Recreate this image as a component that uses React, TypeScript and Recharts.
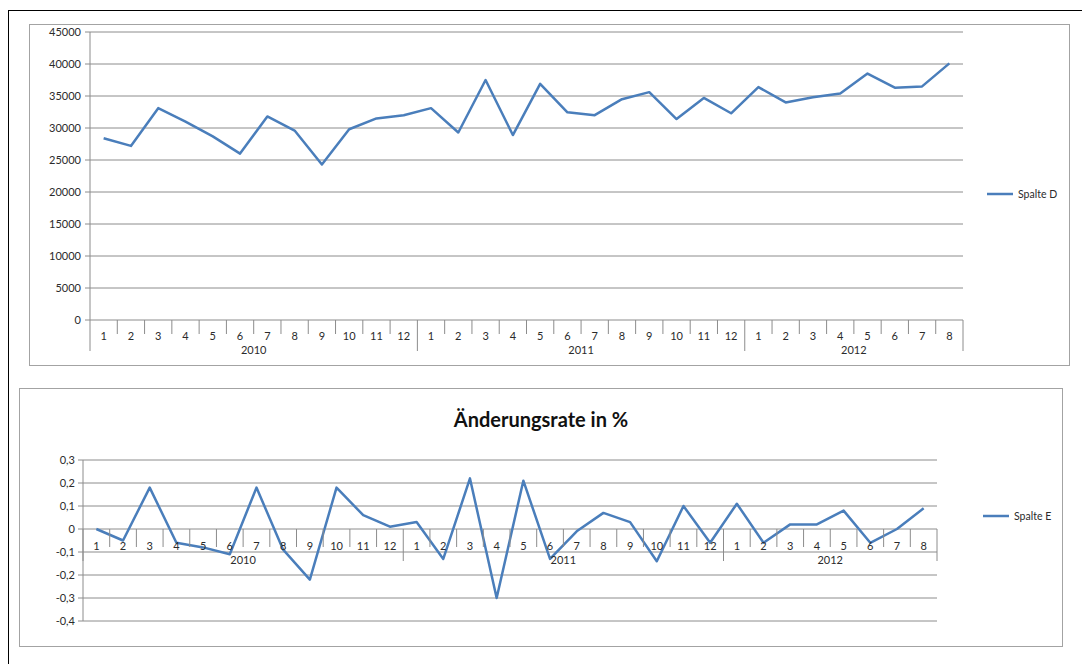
import React from "react";
import { LineChart, Line, XAxis, YAxis, CartesianGrid, Legend } from "recharts";

// Monthly categories, grouped by year
const monthLabels = [
  "1", "2", "3", "4", "5", "6", "7", "8", "9", "10", "11", "12",
  "1", "2", "3", "4", "5", "6", "7", "8", "9", "10", "11", "12",
  "1", "2", "3", "4", "5", "6", "7", "8",
];
const yearLabels = ["2010", "2011", "2012"];
const monthsPerYear = [12, 12, 8];

// Series values
const spalteD = [
  28400, 27200, 33100, 31000, 28700, 26000, 31800, 29600, 24300, 29800, 31500, 32000,
  33100, 29300, 37500, 28900, 36900, 32450, 32000, 34500, 35600, 31400, 34700, 32300,
  36400, 34000, 34800, 35400, 38500, 36300, 36500, 40100,
];
const spalteE = [
  0, -0.05, 0.18, -0.06, -0.08, -0.11, 0.18, -0.09, -0.22, 0.18, 0.06, 0.01,
  0.03, -0.13, 0.22, -0.3, 0.21, -0.13, -0.01, 0.07, 0.03, -0.14, 0.1, -0.06,
  0.11, -0.06, 0.02, 0.02, 0.08, -0.06, 0, 0.09,
];

// Axis tick values
const ticksD = [0, 5000, 10000, 15000, 20000, 25000, 30000, 35000, 40000, 45000];
const ticksE = [-0.4, -0.3, -0.2, -0.1, 0, 0.1, 0.2, 0.3];

const BLUE = "#4a7ebb";
const GRID = "#8c8c8c";
const TEXT = "#2b2b2b";
const FONT = "Lato, 'Liberation Sans', sans-serif";

type Row = {
  key: string;
  month: string;
  year: string;
  first: boolean;
  span: number;
  d: number;
  e: number;
};

const rows: Row[] = [];
{
  let i = 0;
  yearLabels.forEach((year, y) => {
    for (let m = 0; m < monthsPerYear[y]; m++) {
      rows.push({
        key: `${year}-${monthLabels[i]}`,
        month: monthLabels[i],
        year,
        first: m === 0,
        span: monthsPerYear[y],
        d: spalteD[i],
        e: spalteE[i],
      });
      i++;
    }
  });
}

// Two-level category axis: month labels with separators, year labels underneath
function makeMonthTick(opts: {
  step: number;
  lift: number;
  shortLen: number;
  longLen: number;
  monthDy: number;
  yearDy: number;
}) {
  const { step, lift, shortLen, longLen, monthDy, yearDy } = opts;
  return (props: any) => {
    const { x, y, index } = props;
    const row = rows[index];
    if (!row) return null;
    const y0 = y - lift;
    const left = x - step / 2;
    const right = x + step / 2;
    return (
      <g>
        <line
          x1={left}
          x2={left}
          y1={y0}
          y2={y0 + (row.first ? longLen : shortLen)}
          stroke={GRID}
          strokeWidth={1}
        />
        {index === rows.length - 1 && (
          <line x1={right} x2={right} y1={y0} y2={y0 + longLen} stroke={GRID} strokeWidth={1} />
        )}
        <text
          x={x}
          y={y0 + monthDy}
          textAnchor="middle"
          dominantBaseline="central"
          fontSize={11}
          fill={TEXT}
        >
          {row.month}
        </text>
        {row.first && (
          <text
            x={left + (row.span * step) / 2}
            y={y0 + yearDy}
            textAnchor="middle"
            dominantBaseline="central"
            fontSize={11}
            fill={TEXT}
          >
            {row.year}
          </text>
        )}
      </g>
    );
  };
}

const legendContent = (props: any) => {
  const item = props.payload && props.payload[0];
  if (!item) return null;
  return (
    <div style={{ display: "flex", alignItems: "center", fontSize: 10.5, color: TEXT, fontFamily: FONT }}>
      <svg width={26} height={4} style={{ display: "block" }}>
        <line x1={0} y1={2} x2={26} y2={2} stroke={BLUE} strokeWidth={2.5} />
      </svg>
      <span style={{ marginLeft: 5, whiteSpace: "nowrap" }}>{item.value}</span>
    </div>
  );
};

const formatE = (v: number) => (v === 0 ? "0" : v.toFixed(1).replace(".", ","));

// Chart 1 layout
const C1 = { left: 29, top: 24, width: 1041, height: 342 };
const M1 = { top: 8, right: 107, bottom: 6, left: 11 };
const step1 = (C1.width - M1.left - 50 - M1.right) / rows.length;

// Chart 2 layout
const C2 = { left: 19, top: 388, width: 1044, height: 259 };
const M2 = { top: 72, right: 126, bottom: 25, left: 8 };
const step2 = (C2.width - M2.left - 56 - M2.right) / rows.length;
const plotH2 = C2.height - M2.top - M2.bottom - 1;
const zeroLift = (plotH2 * (0 - ticksE[0])) / (ticksE[ticksE.length - 1] - ticksE[0]);

export default function App() {
  const frame = (c: typeof C1) => ({
    position: "absolute" as const,
    left: c.left,
    top: c.top,
    width: c.width,
    height: c.height,
    boxSizing: "border-box" as const,
    border: "1px solid #a3a3a3",
  });
  const place = (c: typeof C1) => ({
    position: "absolute" as const,
    left: c.left,
    top: c.top,
  });

  return (
    <div
      style={{
        position: "absolute",
        left: 0,
        top: 0,
        width: 1082,
        height: 664,
        background: "#fff",
        overflow: "hidden",
        fontFamily: FONT,
      }}
    >
      <div
        style={{
          position: "absolute",
          left: 8,
          top: 10,
          width: 1090,
          height: 670,
          borderTop: "1px solid #000",
          borderLeft: "1px solid #000",
        }}
      />

      {/* Absolute values */}
      <div style={frame(C1)} />
      <div style={place(C1)}>
        <LineChart width={C1.width} height={C1.height} data={rows} margin={M1}>
          <CartesianGrid vertical={false} stroke={GRID} strokeWidth={1} />
          <XAxis
            dataKey="key"
            interval={0}
            axisLine={false}
            tickLine={false}
            tickSize={0}
            tickMargin={0}
            height={40}
            padding={{ left: step1 / 2, right: step1 / 2 }}
            tick={makeMonthTick({ step: step1, lift: 0, shortLen: 14, longLen: 31, monthDy: 15, yearDy: 29 })}
          />
          <YAxis
            width={50}
            domain={[0, 45000]}
            ticks={ticksD}
            interval={0}
            stroke={GRID}
            tickSize={5}
            tickMargin={4}
            tick={{ fontSize: 11, fill: TEXT }}
          />
          <Legend
            layout="horizontal"
            align="center"
            verticalAlign="middle"
            width={110}
            wrapperStyle={{ left: 958, top: 164, width: 110 }}
            content={legendContent}
          />
          <Line
            type="linear"
            dataKey="d"
            name="Spalte D"
            stroke={BLUE}
            strokeWidth={2.5}
            strokeLinejoin="round"
            dot={false}
            activeDot={false}
            isAnimationActive={false}
          />
        </LineChart>
      </div>

      {/* Rate of change */}
      <div style={frame(C2)} />
      <div
        style={{
          position: "absolute",
          left: C2.left,
          top: 406,
          width: C2.width,
          height: 26,
          lineHeight: "26px",
          textAlign: "center",
          fontWeight: 700,
          fontSize: 20,
          color: "#111",
        }}
      >
        Änderungsrate in %
      </div>
      <div style={place(C2)}>
        <LineChart width={C2.width} height={C2.height} data={rows} margin={M2}>
          <CartesianGrid vertical={false} stroke={GRID} strokeWidth={1} />
          <XAxis
            dataKey="key"
            interval={0}
            axisLine={false}
            tickLine={false}
            tickSize={0}
            tickMargin={0}
            height={1}
            padding={{ left: step2 / 2, right: step2 / 2 }}
            tick={makeMonthTick({ step: step2, lift: zeroLift, shortLen: 18, longLen: 32, monthDy: 16, yearDy: 30 })}
          />
          <YAxis
            width={56}
            domain={[ticksE[0], ticksE[ticksE.length - 1]]}
            ticks={ticksE}
            interval={0}
            stroke={GRID}
            tickSize={5}
            tickMargin={3}
            tickFormatter={formatE}
            tick={{ fontSize: 11, fill: TEXT }}
          />
          <Legend
            layout="horizontal"
            align="center"
            verticalAlign="middle"
            width={110}
            wrapperStyle={{ left: 964, top: 122, width: 110 }}
            content={legendContent}
          />
          <Line
            type="linear"
            dataKey="e"
            name="Spalte E"
            stroke={BLUE}
            strokeWidth={2.5}
            strokeLinejoin="round"
            dot={false}
            activeDot={false}
            isAnimationActive={false}
          />
        </LineChart>
      </div>
    </div>
  );
}
